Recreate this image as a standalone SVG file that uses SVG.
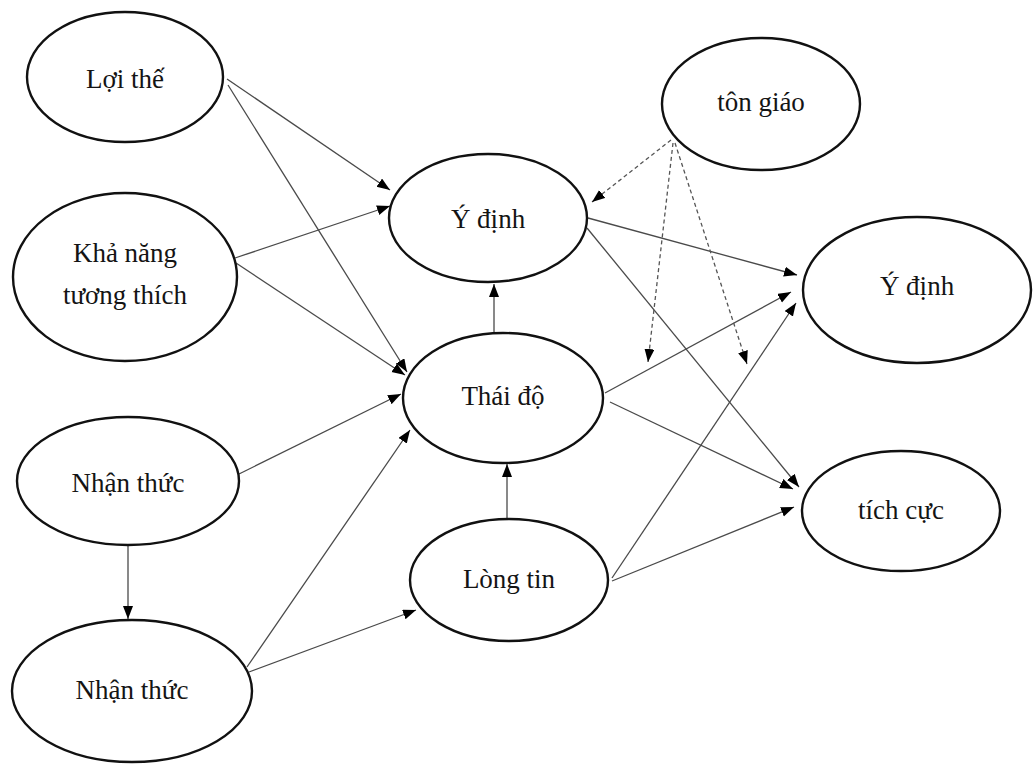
<svg xmlns="http://www.w3.org/2000/svg" width="1034" height="765" viewBox="0 0 1034 765">
  <style>
    .node ellipse { fill: #ffffff; stroke: #111111; stroke-width: 2.4; }
    .node text { font-family: "Liberation Serif", "Times New Roman", serif; font-size: 27px; fill: #141414; text-anchor: middle; dominant-baseline: central; }
    .edge { stroke: #4a4a4a; stroke-width: 1.3; fill: none; marker-end: url(#arrow); }
    .dashed { stroke: #555555; stroke-width: 1.3; fill: none; stroke-dasharray: 4 3; marker-end: url(#arrow); }
  </style>
  <defs>
    <marker id="arrow" markerUnits="userSpaceOnUse" markerWidth="14" markerHeight="11" refX="13" refY="5" orient="auto">
      <path d="M0,0 L13,5 L0,10 z" fill="#000000"/>
    </marker>
  </defs>
  <rect width="1034" height="765" fill="#ffffff"/>

  <g id="connectors">
    <line class="edge" x1="227" y1="79" x2="390" y2="190"/>
    <line class="edge" x1="228" y1="85" x2="407" y2="372"/>
    <line class="edge" x1="235" y1="258" x2="390" y2="206"/>
    <line class="edge" x1="236" y1="263" x2="405" y2="375"/>
    <line class="edge" x1="239" y1="474" x2="401" y2="394"/>
    <line class="edge" x1="247" y1="667" x2="410" y2="430"/>
    <line class="edge" x1="249" y1="672" x2="416" y2="610"/>
    <line class="edge" x1="128" y1="545" x2="128" y2="619"/>
    <line class="edge" x1="494" y1="332" x2="494" y2="284"/>
    <line class="edge" x1="507" y1="518" x2="507" y2="464"/>
    <line class="edge" x1="588" y1="218" x2="797" y2="275"/>
    <line class="edge" x1="587" y1="228" x2="799" y2="487"/>
    <line class="edge" x1="605" y1="393" x2="791" y2="292"/>
    <line class="edge" x1="610" y1="402" x2="793" y2="489"/>
    <line class="edge" x1="612" y1="578" x2="796" y2="303"/>
    <line class="edge" x1="612" y1="581" x2="794" y2="507"/>
    <line class="dashed" x1="671" y1="140" x2="592" y2="202"/>
    <line class="dashed" x1="673" y1="143" x2="648" y2="362"/>
    <line class="dashed" x1="675" y1="143" x2="747" y2="364"/>
  </g>

  <g id="loi-the" class="node">
    <ellipse cx="125" cy="77" rx="98" ry="65"/>
    <text x="125" y="79">Lợi thế</text>
  </g>
  <g id="kha-nang" class="node">
    <ellipse cx="125" cy="277" rx="112" ry="84"/>
    <text x="125" y="253">Khả năng</text>
    <text x="125" y="295">tương thích</text>
  </g>
  <g id="nhan-thuc-1" class="node">
    <ellipse cx="128" cy="481" rx="111" ry="64"/>
    <text x="128" y="483">Nhận thức</text>
  </g>
  <g id="nhan-thuc-2" class="node">
    <ellipse cx="132" cy="691" rx="120" ry="71"/>
    <text x="132" y="690">Nhận thức</text>
  </g>
  <g id="y-dinh-1" class="node">
    <ellipse cx="488" cy="218" rx="99" ry="64"/>
    <text x="488" y="219">Ý định</text>
  </g>
  <g id="thai-do" class="node">
    <ellipse cx="503" cy="398" rx="100" ry="65"/>
    <text x="503" y="396">Thái độ</text>
  </g>
  <g id="long-tin" class="node">
    <ellipse cx="509" cy="580" rx="99" ry="61"/>
    <text x="509" y="579">Lòng tin</text>
  </g>
  <g id="ton-giao" class="node">
    <ellipse cx="761" cy="104" rx="99" ry="66"/>
    <text x="761" y="102">tôn giáo</text>
  </g>
  <g id="y-dinh-2" class="node">
    <ellipse cx="917" cy="290" rx="114" ry="73"/>
    <text x="917" y="286">Ý định</text>
  </g>
  <g id="tich-cuc" class="node">
    <ellipse cx="901" cy="511" rx="99" ry="60"/>
    <text x="901" y="510">tích cực</text>
  </g>
</svg>
